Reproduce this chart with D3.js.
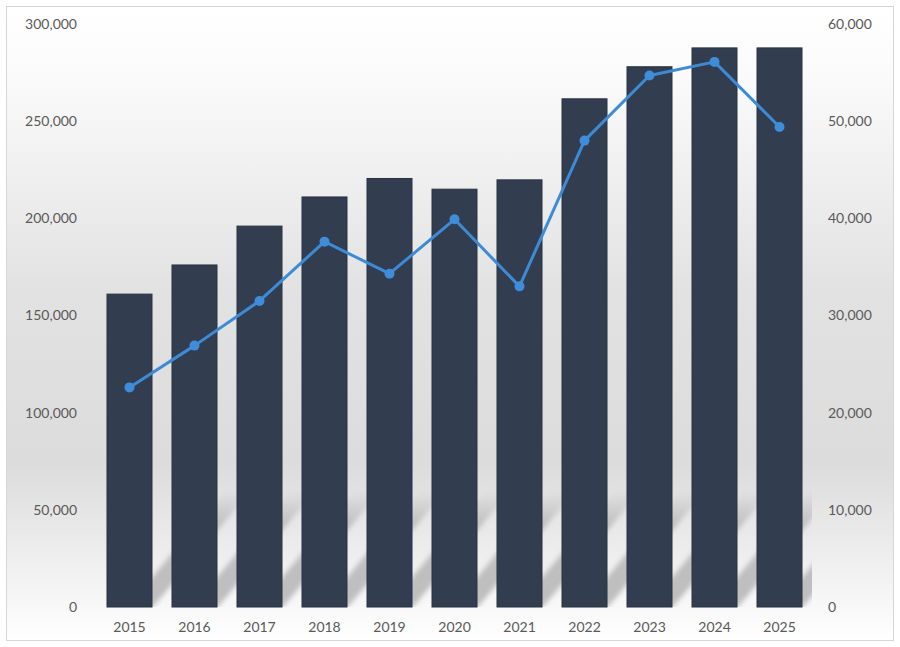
<!DOCTYPE html>
<html>
<head>
<meta charset="utf-8">
<script src="https://cdn.jsdelivr.net/npm/d3@7"></script>
<style>
  body { margin: 0; background: #fff; }
  text { font-family: Lato, "Open Sans", sans-serif; fill: #595959; }
</style>
</head>
<body>
<div id="chart"></div>
<script>
const years = ["2015", "2016", "2017", "2018", "2019", "2020", "2021", "2022", "2023", "2024", "2025"];
const barValues = [161000, 176000, 196000, 211000, 220500, 215000, 219800, 261500, 278000, 287700, 287700];
const lineValues = [22600, 26900, 31500, 37600, 34300, 39900, 33000, 48000, 54700, 56100, 49400];
const leftTicks = [0, 50000, 100000, 150000, 200000, 250000, 300000];
const rightTicks = [0, 10000, 20000, 30000, 40000, 50000, 60000];

const w = 900;
const h = 647;

const svg = d3.select("#chart")
    .append("svg")
    .attr("width", w)
    .attr("height", h);

const defs = svg.append("defs");

// chart background, white -> grey -> white
const bg = defs.append("linearGradient")
    .attr("id", "bg")
    .attr("x1", 0).attr("y1", 0).attr("x2", 0).attr("y2", 1);
bg.append("stop").attr("offset", "0%").attr("stop-color", "#ffffff");
bg.append("stop").attr("offset", "12%").attr("stop-color", "#fafafa");
bg.append("stop").attr("offset", "45%").attr("stop-color", "#e2e2e2");
bg.append("stop").attr("offset", "72%").attr("stop-color", "#dcdcdc");
bg.append("stop").attr("offset", "90%").attr("stop-color", "#f2f2f2");
bg.append("stop").attr("offset", "100%").attr("stop-color", "#ffffff");

const sh = defs.append("linearGradient")
    .attr("id", "sh")
    .attr("x1", 0).attr("y1", 0).attr("x2", 0).attr("y2", 1);
sh.append("stop").attr("offset", "0%").attr("stop-color", "#b4b4b4").attr("stop-opacity", 0);
sh.append("stop").attr("offset", "30%").attr("stop-color", "#b4b4b4").attr("stop-opacity", 0.8);
sh.append("stop").attr("offset", "100%").attr("stop-color", "#b8b8b8").attr("stop-opacity", 0.9);

defs.append("filter").attr("id", "blur")
    .append("feGaussianBlur").attr("stdDeviation", 2.5);

svg.append("rect")
    .attr("x", 6.5)
    .attr("y", 6.5)
    .attr("width", 887)
    .attr("height", 634)
    .attr("fill", "url(#bg)")
    .attr("stroke", "#d6d6d6");

const xScale = d3.scaleBand()
    .domain(years)
    .range([97, 812])
    .paddingInner(0.3077)
    .paddingOuter(0.1538);

const yLeft = d3.scaleLinear()
    .domain([0, 300000])
    .range([607, 24]);

const yRight = d3.scaleLinear()
    .domain([0, 60000])
    .range([607, 24]);

const fmt = d3.format(",");

defs.append("clipPath").attr("id", "plot")
    .append("rect")
    .attr("x", xScale.range()[0])
    .attr("y", yLeft(300000))
    .attr("width", xScale.range()[1] - xScale.range()[0])
    .attr("height", yLeft(0) - yLeft(300000));

// floor reflections behind the bars
const shadowTop = yLeft(60000);
svg.append("g")
    .attr("clip-path", "url(#plot)")
    .append("g")
    .attr("filter", "url(#blur)")
    .selectAll("rect")
    .data(years)
    .enter()
    .append("rect")
    .attr("x", (d) => xScale(d) + 20)
    .attr("y", shadowTop)
    .attr("width", 26)
    .attr("height", yLeft(0) - shadowTop)
    .attr("fill", "url(#sh)")
    .attr("transform", `translate(0, ${yLeft(0)}) skewX(-40) translate(0, ${-yLeft(0)})`);

// bars
svg.append("g")
    .selectAll("rect")
    .data(barValues)
    .enter()
    .append("rect")
    .attr("class", "bar")
    .attr("x", (d, i) => xScale(years[i]))
    .attr("y", (d) => yLeft(d))
    .attr("width", xScale.bandwidth())
    .attr("height", (d) => yLeft(0) - yLeft(d))
    .attr("fill", "#323e4f")
    .attr("stroke", "#283242")
    .attr("stroke-width", 1);

// line
const line = d3.line()
    .x((d, i) => xScale(years[i]) + xScale.bandwidth() / 2)
    .y((d) => yRight(d));

svg.append("path")
    .datum(lineValues)
    .attr("d", line)
    .attr("fill", "none")
    .attr("stroke", "#3d8bd6")
    .attr("stroke-width", 3)
    .attr("stroke-linejoin", "round");

svg.append("g")
    .selectAll("circle")
    .data(lineValues)
    .enter()
    .append("circle")
    .attr("cx", (d, i) => xScale(years[i]) + xScale.bandwidth() / 2)
    .attr("cy", (d) => yRight(d))
    .attr("r", 5)
    .attr("fill", "#3f8dd8");

// axes
const xAxis = d3.axisBottom(xScale).tickSize(0).tickPadding(15);
const leftAxis = d3.axisLeft(yLeft).tickValues(leftTicks).tickFormat(fmt).tickSize(0).tickPadding(0);
const rightAxis = d3.axisRight(yRight).tickValues(rightTicks).tickFormat(fmt).tickSize(0).tickPadding(0);

const axisB = svg.append("g")
    .attr("transform", "translate(0, 607)")
    .call(xAxis);

const axisL = svg.append("g")
    .attr("transform", "translate(77, 0)")
    .call(leftAxis);

const axisR = svg.append("g")
    .attr("transform", "translate(828, 0)")
    .call(rightAxis);

[axisB, axisL, axisR].forEach((a) => {
    a.select(".domain").remove();
    a.selectAll("text")
        .attr("fill", "#595959")
        .style("font-family", "Lato, 'Open Sans', sans-serif")
        .style("font-size", "14px");
});
</script>
</body>
</html>
